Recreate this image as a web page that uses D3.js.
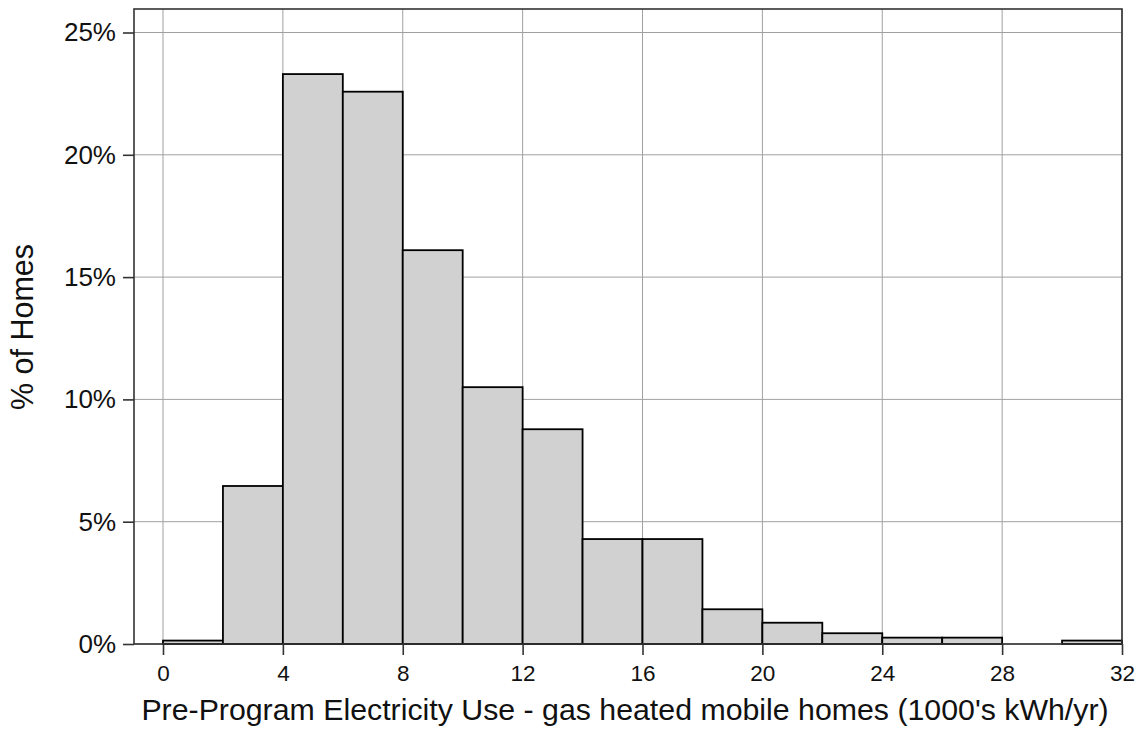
<!DOCTYPE html>
<html>
<head>
<meta charset="utf-8">
<script src="https://cdn.jsdelivr.net/npm/d3@7"></script>
<style>
  html, body { margin: 0; padding: 0; background: #fff; }
  svg { display: block; }
  text { font-family: Arial, "Liberation Sans", sans-serif; fill: #111; }
</style>
</head>
<body>
<svg id="chart" width="1140" height="730"></svg>
<script>
// Histogram bins (1000's kWh/yr) and share of homes (%)
const binStarts = [0, 2, 4, 6, 8, 10, 12, 14, 16, 18, 20, 22, 24, 26, 28, 30];
const binWidth = 2;
const pctHomes = [0.14, 6.46, 23.3, 22.58, 16.1, 10.5, 8.78, 4.29, 4.29, 1.42, 0.87, 0.44, 0.26, 0.26, 0, 0.14];
const xTicks = [0, 4, 8, 12, 16, 20, 24, 28, 32];
const yTicks = [0, 5, 10, 15, 20, 25];
const xTitle = "Pre-Program Electricity Use - gas heated mobile homes (1000's kWh/yr)";
const yTitle = "% of Homes";

const svg = d3.select("#chart");
const frame = { left: 134, right: 1122, top: 9, bottom: 644 };

const x = d3.scaleLinear().domain([0, 32]).range([163, 1122]);
const y = d3.scaleLinear().domain([0, 25]).range([644, 32.5]);

// gridlines
const grid = svg.append("g");
grid.selectAll("line.vg").data(xTicks).join("line")
  .attr("x1", d => x(d)).attr("x2", d => x(d))
  .attr("y1", frame.top).attr("y2", frame.bottom)
  .attr("stroke", "#a0a0a0").attr("stroke-width", 1);
grid.selectAll("line.hg").data(yTicks).join("line")
  .attr("x1", frame.left).attr("x2", frame.right)
  .attr("y1", d => y(d)).attr("y2", d => y(d))
  .attr("stroke", "#a0a0a0").attr("stroke-width", 1);

// bars
const bins = binStarts.map((s, i) => ({ x0: s, x1: s + binWidth, v: pctHomes[i] }));
svg.append("g").selectAll("rect").data(bins.filter(d => d.v > 0)).join("rect")
  .attr("x", d => x(d.x0))
  .attr("width", d => x(d.x1) - x(d.x0))
  .attr("y", d => y(d.v))
  .attr("height", d => y(0) - y(d.v))
  .attr("fill", "#d1d1d1")
  .attr("stroke", "#000")
  .attr("stroke-width", 1.8);

// frame
svg.append("rect")
  .attr("x", frame.left).attr("y", frame.top)
  .attr("width", frame.right - frame.left).attr("height", frame.bottom - frame.top)
  .attr("fill", "none").attr("stroke", "#333").attr("stroke-width", 1.6);

// x axis
const xAxis = d3.axisBottom(x).tickValues(xTicks).tickSize(11).tickPadding(10).tickFormat(d3.format("d"));
const gx = svg.append("g").attr("transform", `translate(0,${frame.bottom})`).call(xAxis);
gx.select(".domain").remove();
gx.selectAll(".tick line").attr("stroke", "#333").attr("stroke-width", 1.6);
gx.selectAll(".tick text").attr("font-size", 22.5).attr("font-family", "Arial, 'Liberation Sans', sans-serif").attr("fill", "#111");

// y axis
const yAxis = d3.axisLeft(y).tickValues(yTicks).tickSize(11).tickPadding(7).tickFormat(d => d + "%");
const gy = svg.append("g").attr("transform", `translate(${frame.left},0)`).call(yAxis);
gy.select(".domain").remove();
gy.selectAll(".tick line").attr("stroke", "#333").attr("stroke-width", 1.6);
gy.selectAll(".tick text").attr("font-size", 26).attr("font-family", "Arial, 'Liberation Sans', sans-serif").attr("fill", "#111");

// titles
svg.append("text")
  .attr("x", 625).attr("y", 720)
  .attr("text-anchor", "middle")
  .attr("font-size", 30.3)
  .text(xTitle);

svg.append("text")
  .attr("transform", "translate(33,327) rotate(-90)")
  .attr("text-anchor", "middle")
  .attr("font-size", 30.5)
  .text(yTitle);
</script>
</body>
</html>
